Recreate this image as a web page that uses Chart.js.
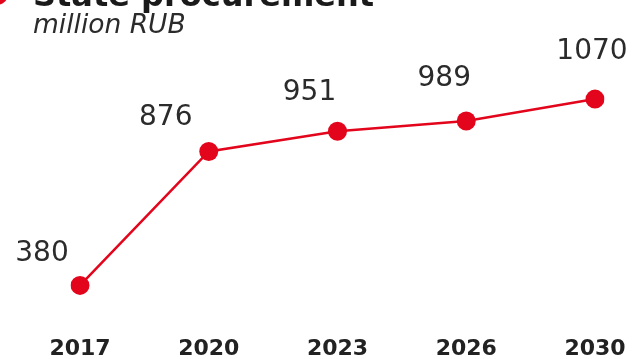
<!DOCTYPE html>
<html>
<head>
<meta charset="utf-8">
<script src="https://cdn.jsdelivr.net/npm/chart.js@4"></script>
<style>
  html, body { margin: 0; padding: 0; background: #fff; }
  #wrap { width: 636px; height: 359px; position: relative; }
</style>
</head>
<body>
<div id="wrap"><canvas id="c" width="636" height="359"></canvas></div>
<script>
const years = ["2017", "2020", "2023", "2026", "2030"];
const procurement = [380, 876, 951, 989, 1070];
const chartTitle = "State procurement";
const chartSubtitle = "million RUB";

const RED = "#e3051b";
const TEXT = "#2b2b2b";

const headerPlugin = {
  id: "header",
  afterDraw(chart) {
    const ctx = chart.ctx;
    ctx.save();
    ctx.fillStyle = RED;
    ctx.beginPath();
    ctx.arc(-3, -6, 11, 0, Math.PI * 2);
    ctx.fill();
    ctx.fillStyle = "#1a1a1a";
    ctx.textBaseline = "alphabetic";
    ctx.textAlign = "left";
    ctx.font = "bold 32px 'DejaVu Sans'";
    ctx.fillText(chartTitle, 33, 6);
    ctx.fillStyle = TEXT;
    ctx.font = "italic 26.5px 'DejaVu Sans'";
    ctx.fillText(chartSubtitle, 33, 33);
    ctx.restore();
  }
};

const valueLabels = {
  id: "valueLabels",
  afterDatasetsDraw(chart, args, opts) {
    const ctx = chart.ctx;
    const meta = chart.getDatasetMeta(0);
    const data = chart.data.datasets[0].data;
    ctx.save();
    ctx.font = "28px 'DejaVu Sans'";
    ctx.fillStyle = TEXT;
    ctx.textAlign = "center";
    ctx.textBaseline = "middle";
    meta.data.forEach((pt, i) => {
      const off = opts.offsets[i] || [0, -35];
      ctx.fillText(String(data[i]), pt.x + off[0], pt.y + off[1]);
    });
    ctx.restore();
  }
};

new Chart(document.getElementById("c"), {
  type: "line",
  data: {
    labels: years,
    datasets: [{
      data: procurement,
      borderColor: RED,
      backgroundColor: RED,
      borderWidth: 2.5,
      pointRadius: 9.5,
      pointHoverRadius: 9.5,
      pointBackgroundColor: RED,
      pointBorderWidth: 0,
      tension: 0
    }]
  },
  options: {
    responsive: false,
    animation: false,
    events: [],
    layout: { padding: { top: 64, left: 80, right: 41, bottom: 0 } },
    plugins: {
      legend: { display: false },
      tooltip: { enabled: false },
      title: { display: false },
      valueLabels: {
        offsets: [[-38, -32], [-43, -34], [-28, -39], [-22, -42], [-3, -47]]
      }
    },
    scales: {
      x: {
        offset: false,
        grid: { display: false },
        border: { display: false },
        afterFit(scale) {
          scale.height = 52;
          scale.paddingLeft = 0;
          scale.paddingRight = 0;
        },
        ticks: {
          color: "#222",
          padding: 21,
          maxRotation: 0,
          autoSkip: false,
          font: { family: "'DejaVu Sans'", size: 22, weight: "bold" }
        }
      },
      y: {
        display: false,
        min: 300,
        max: 1200
      }
    }
  },
  plugins: [headerPlugin, valueLabels]
});
</script>
</body>
</html>
